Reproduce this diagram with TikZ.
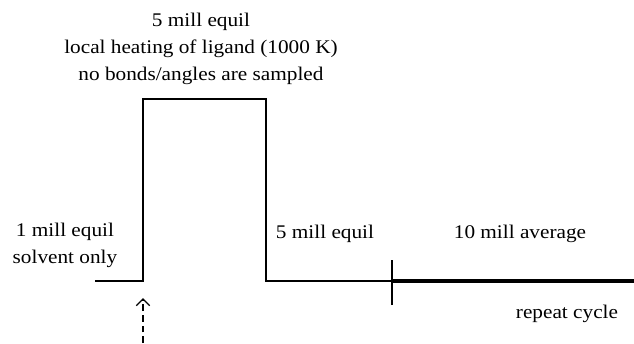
\documentclass[tikz,border=0pt]{standalone}
\usepackage{fontspec}
\setmainfont{Liberation Serif}[FakeStretch=1.1]
\usetikzlibrary{arrows.meta,positioning}
\tikzset{
  lbl/.style={font=\fontsize{14.5}{19.9}\selectfont, align=center, inner sep=0pt},
  trace/.style={line width=1.1pt, line join=miter},
  avgline/.style={line width=2.3pt},
  trig/.style={dashed, dash pattern=on 5pt off 3pt, line width=1pt,
               -{Straight Barb[length=5pt,width=10pt,line width=1pt]}},
}
\begin{document}
\begin{tikzpicture}[x=0.75pt, y=-0.75pt]
  \useasboundingbox (0,0) rectangle (634,343);
  % temperature protocol
  \coordinate (start) at (95,281);
  \coordinate (up) at (143,281);
  \coordinate (hot1) at (143,99);
  \coordinate (hot2) at (266,99);
  \coordinate (down) at (266,281);
  \coordinate (mark) at (392,281);
  \coordinate (stop) at (634,281);
  \draw[trace] (start) -- (up) -- (hot1) -- (hot2) -- (down) -- (mark);
  \draw[avgline] (mark) -- (stop);
  \draw[line width=1.1pt] ([yshift=-18]mark) -- ([yshift=16]mark);
  % labels
  \node[lbl, anchor=base] (heat) at (201,80) {5 mill equil\\local heating of ligand (1000 K)\\no bonds/angles are sampled};
  \node[lbl, anchor=base] (solv) at (65,263) {1 mill equil\\solvent only};
  \node[lbl, anchor=base] (equil) at (325,238) {5 mill equil};
  \node[lbl, anchor=base] (avg) at (520,238) {10 mill average};
  \node[lbl, anchor=base] (rep) at (567,318) {repeat cycle};
  % restart
  \coordinate (trigfoot) at (143,343);
  \coordinate (trighead) at (143,298);
  \draw[trig] (trigfoot) -- (trighead);
\end{tikzpicture}
\end{document}
